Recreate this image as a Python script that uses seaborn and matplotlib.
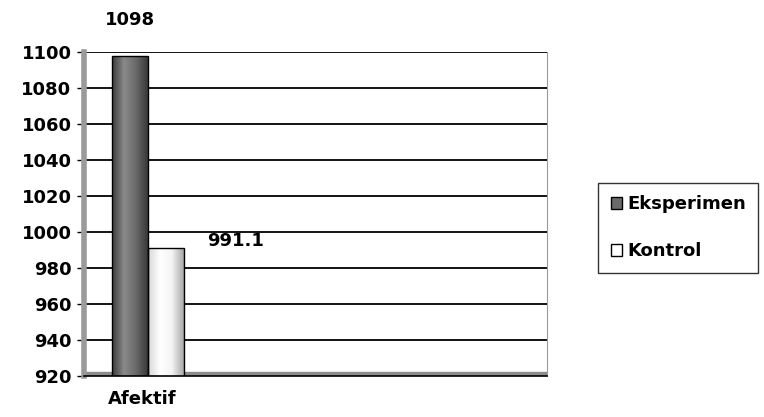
import matplotlib
matplotlib.use("Agg")
from matplotlib import pyplot as plt
import seaborn as sns
import pandas as pd
import numpy as np

# data
categories = ["Afektif", " ", "  ", "   "]
groups = ["Eksperimen", "Kontrol"]
values = [1098, 991.1]
label_text = ["1098", "991.1"]
y_ticks = list(range(920, 1101, 20))

df = pd.DataFrame({
    "kategori": [categories[0]] * 2,
    "kelompok": groups,
    "nilai": values,
})

sns.set_style("white")
plt.rcParams["font.family"] = ["DejaVu Sans"]
plt.rcParams["font.weight"] = "bold"
plt.rcParams["text.color"] = "black"
plt.rcParams["xtick.color"] = "black"
plt.rcParams["ytick.color"] = "black"

fig = plt.figure(figsize=(7.64, 4.17), dpi=100)
ax = fig.add_axes([0.110, 0.098, 0.606, 0.777])

ax = sns.barplot(
    data=df, x="kategori", y="nilai", hue="kelompok",
    order=categories, hue_order=groups,
    palette={"Eksperimen": "#6b6b6b", "Kontrol": "#ffffff"},
    edgecolor="black", linewidth=1.0, width=0.62, ax=ax,
)

fs = 13
ax.set_ylim(920, 1100)
ax.set_yticks(y_ticks)
ax.set_yticklabels([str(t) for t in y_ticks], fontsize=fs, fontweight="bold", color="black")
ax.set_xticks([0, 1, 2, 3])
ax.set_xticklabels(categories, fontsize=fs, fontweight="bold", color="black")
ax.set_xticks([-0.5, 0.5, 1.5, 2.5, 3.5], minor=True)
ax.tick_params(axis="x", which="major", length=0, pad=10)
ax.tick_params(axis="x", which="minor", length=5, width=1, color="black", direction="out")
ax.tick_params(axis="y", length=5, width=1, color="black", direction="out", left=True, pad=4)
ax.set_xlabel("")
ax.set_ylabel("")

# horizontal grid
for t in y_ticks[1:]:
    ax.axhline(t, color="black", linewidth=1.3, zorder=0)
ax.axhspan(920, 922.5, color="#8c8c8c", zorder=0.5)

for side in ["left", "bottom"]:
    ax.spines[side].set_color("black")
    ax.spines[side].set_linewidth(1.2)
ax.spines["right"].set_color("#9a9a9a")
ax.spines["top"].set_visible(False)
ax.spines["left"].set_linewidth(4)
ax.spines["left"].set_color("#9a9a9a")

# cylinder-like shading on the bars
shades = {
    0: matplotlib.colors.LinearSegmentedColormap.from_list(
        "dk", ["#3c3c3c", "#8a8a8a", "#6a6a6a", "#3a3a3a"]),
    1: matplotlib.colors.LinearSegmentedColormap.from_list(
        "lt", ["#d8d8d8", "#ffffff", "#f4f4f4", "#a8a8a8"]),
}
bars = [p for c in ax.containers for p in c if p.get_height() > 0]
grad = np.linspace(0, 1, 64).reshape(1, -1)
for i, b in enumerate(bars):
    b.set_x(b.get_x() + 0.05)
    x0, w = b.get_x(), b.get_width()
    im = ax.imshow(grad, cmap=shades[i], aspect="auto",
                   extent=[x0, x0 + w, 920, b.get_height()], zorder=b.get_zorder())
    im.set_clip_path(b)
    b.set_facecolor("none")
    b.set_zorder(b.get_zorder() + 0.1)
ax.set_xlim(-0.5, len(categories) - 0.5)
ax.set_ylim(920, 1100)

# value labels
ax.text(bars[0].get_x() + bars[0].get_width() / 2, values[0] + 15, label_text[0],
        ha="center", va="bottom", fontsize=fs, fontweight="bold", color="black")
ax.text(bars[1].get_x() + bars[1].get_width() + 0.2, values[1] - 1, label_text[1],
        ha="left", va="bottom", fontsize=fs, fontweight="bold", color="black")

leg = ax.legend(
    loc="upper left", bbox_to_anchor=(0.783, 0.562), bbox_transform=fig.transFigure,
    frameon=True, fancybox=False, edgecolor="black", handlelength=0.6,
    handleheight=0.6, handletextpad=0.3, labelspacing=1.6, borderpad=0.7,
    borderaxespad=0, prop={"size": fs, "weight": "bold"},
)
leg.get_frame().set_linewidth(1.0)
for t in leg.get_texts():
    t.set_color("black")
for h in leg.legend_handles:
    h.set_edgecolor("black")
leg.legend_handles[0].set_facecolor("#6b6b6b")
leg.legend_handles[1].set_facecolor("#ffffff")

plt.savefig("out.png", dpi=100)
plt.close()
